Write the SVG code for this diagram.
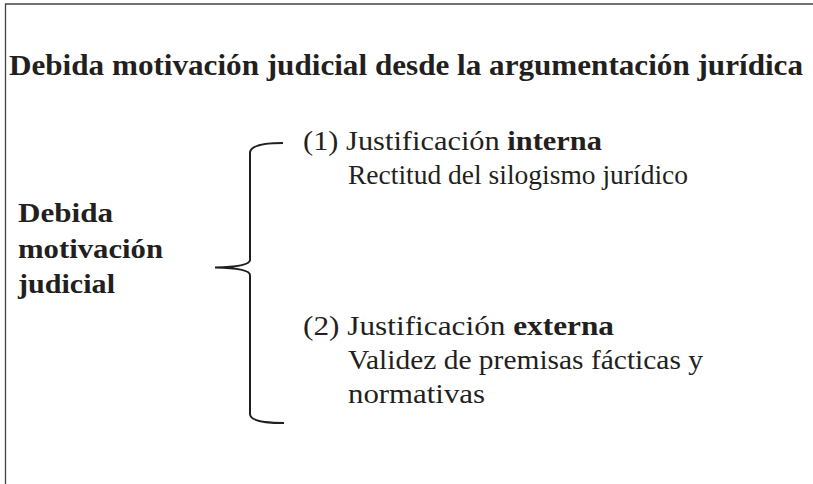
<svg xmlns="http://www.w3.org/2000/svg" width="813" height="484" viewBox="0 0 813 484">
<style>
text{font-family:"Liberation Serif","DejaVu Serif",serif;fill:#231f20}
.t{font-weight:bold;font-size:30px}
.l{font-weight:bold;font-size:27px}
.r{font-size:28px}
.b{font-weight:bold}
.frame{fill:none;stroke:#444;stroke-width:1.3}
.brace{fill:none;stroke:#231f20;stroke-width:2}
</style>
<rect width="813" height="484" fill="#fff"/>
<g id="frame"><path class="frame" d="M5.5,484 V4 H813"/></g>
<g id="title"><text class="t" x="9" y="75" textLength="794" lengthAdjust="spacingAndGlyphs">Debida motivación judicial desde la argumentación jurídica</text></g>
<g id="node-main">
<text class="l" x="18" y="222" textLength="95" lengthAdjust="spacingAndGlyphs">Debida</text>
<text class="l" x="18" y="258" textLength="145" lengthAdjust="spacingAndGlyphs">motivación</text>
<text class="l" x="18" y="293" textLength="97" lengthAdjust="spacingAndGlyphs">judicial</text>
</g>
<g id="connectors">
<path class="brace" d="M283,143 C262,143 250,146 250,153 V260 C250,265 235,267 215,267.5 C235,268 250,270 250,275 V414 C250,420 262,423 284,423"/>
</g>
<g id="node-1">
<text class="r" x="303" y="150" textLength="299" lengthAdjust="spacingAndGlyphs">(1) Justificación <tspan class="b">interna</tspan></text>
<text class="r" x="348" y="184" textLength="340" lengthAdjust="spacingAndGlyphs">Rectitud del silogismo jurídico</text>
</g>
<g id="node-2">
<text class="r" x="303" y="335" textLength="311" lengthAdjust="spacingAndGlyphs">(2) Justificación <tspan class="b">externa</tspan></text>
<text class="r" x="348" y="369" textLength="355" lengthAdjust="spacingAndGlyphs">Validez de premisas fácticas y</text>
<text class="r" x="348" y="403" textLength="137" lengthAdjust="spacingAndGlyphs">normativas</text>
</g>
</svg>
